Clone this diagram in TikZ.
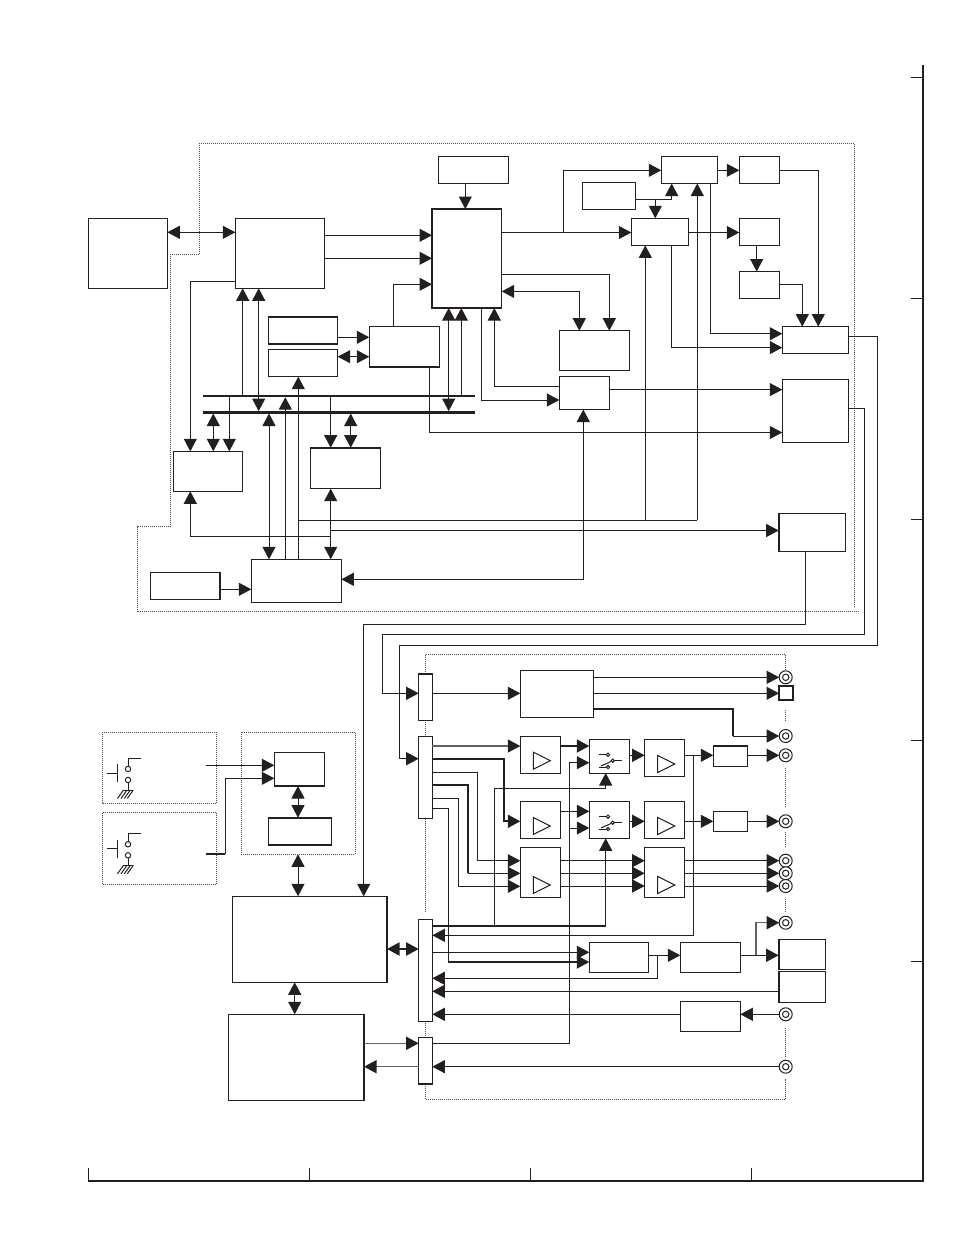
\documentclass[tikz,border=0pt]{standalone}
\usetikzlibrary{arrows.meta,calc}
\definecolor{ink}{HTML}{231F20}
\definecolor{dotink}{HTML}{4A4A4A}
\tikzset{
  x=1pt,y=-1pt,
  every path/.style={line width=1pt,color=ink},
  blk/.style={draw=ink,fill=white,rectangle,inner sep=0pt,outer sep=0pt,line width=1pt},
  heavy/.style={line width=1.4pt},
  tipa/.tip={Triangle[length=12.5pt,width=13pt,color=ink,fill=ink]},
  to/.style={-{tipa}},
  from/.style={{tipa}-},
  both/.style={{tipa}-{tipa}},
  fat/.style={line width=1.9pt},
  soft/.style={line width=1.4pt,draw=ink!70},
  dots/.style={line width=0.9pt,draw=dotink,dash pattern=on 1pt off 1pt},
  conn/.style={circle,draw=ink,fill=white,inner sep=0pt,outer sep=0pt,minimum size=13pt,line width=1pt},
  frameline/.style={line width=2pt},
  tick/.style={line width=1.1pt},
  rim/.style={line width=1.8pt,line cap=butt},
}
% \bx[style]{name}{x1}{y1}{x2}{y2}: rectangle given by its corners
\newcommand{\bx}[6][]{%
  \pgfmathsetmacro{\bxw}{#5-#3}\pgfmathsetmacro{\bxh}{#6-#4}%
  \pgfmathsetmacro{\bxc}{(#3+#5)/2}\pgfmathsetmacro{\bxd}{(#4+#6)/2}%
  \node[blk,minimum width=\bxw pt,minimum height=\bxh pt,#1] (#2) at (\bxc,\bxd) {};}
% \cn{name}{x}{y}: ring-shaped jack
\newcommand{\cn}[3]{\node[conn] (#1) at (#2,#3) {}; \draw (#1) circle (3.2pt);}
% \amp{x}{y}: open triangle with left edge at x, centred on y
\newcommand{\amp}[2]{\draw ($(#1,#2)+(0,-8.5)$) -- ++(17,8.5) -- ++(-17,8.5) -- cycle;}
% \swt{y}: changeover switch symbol
\newcommand{\swt}[1]{%
  \begin{scope}[yshift=-#1pt]
    \draw (598.7,754.7) -- (606.4,754.7);
    \draw (598.7,767) -- (606.4,767);
    \draw (612.7,760.7) -- (601,766);
    \draw (614.4,760.7) -- (622,760.7);
    \draw[fill=white] (608,754.7) circle (1.7pt);
    \draw[fill=white] (608,767) circle (1.7pt);
    \draw[fill=white] (612.7,760.7) circle (1.7pt);
  \end{scope}}
% \pbt{y}: push button with grounded contact
\newcommand{\pbt}[1]{%
  \begin{scope}[yshift=-#1pt]
    \draw (107.3,773.3) -- (117.7,773.3);
    \draw (117.7,764.3) -- (117.7,782.3);
    \draw (140.7,758.3) -- (128,758.3) -- (128,766.3);
    \draw (128,782.7) -- (128,790);
    \draw (123.3,790) -- (133.3,790);
    \draw (128,769) circle (2.7pt);
    \draw (128,780) circle (2.7pt);
    \draw (123.5,790) -- (117.5,798.5);
    \draw (127,790) -- (121,798.5);
    \draw (130.3,790) -- (124.3,798.5);
    \draw (133.3,790) -- (127.3,798.5);
  \end{scope}}
\begin{document}
\begin{tikzpicture}
\useasboundingbox (0,0) rectangle (954,1235);

% --- outer frame and grid ticks
\draw[frameline] (923,65) -- (923,1181) -- (88,1181);
\foreach \ty in {77.3,298.3,519.3,740.3,961.3} \draw[tick] (911,\ty) -- (923,\ty);
\foreach \tx in {88.5,309.5,530.5,751.5} \draw[tick] (\tx,1168) -- (\tx,1181);

% --- dotted enclosures
\draw[dots] (854,607) -- (854,143.3) -- (199.3,143.3) -- (199.3,254.3) -- (170,254.3) -- (170,526.7) -- (137,526.7) -- (137,611.7) -- (858,611.7);
\draw[dots] (102.3,732.3) rectangle (216.7,803.3);
\draw[dots] (102.3,812.7) rectangle (216.7,884.3);
\draw[dots] (241.3,732.3) rectangle (355.3,854.3);
\draw[dots] (425.3,673.7) -- (425.3,654.3) -- (785.7,654.3) -- (785.7,670);
\draw[dots] (425.3,1084) -- (425.3,1099.3) -- (785.7,1099.3) -- (785.7,1078.7);
\foreach \ya/\yb in {720.3/736,818.7/911.7,1021.3/1037.3} \draw[dots] (425.3,\ya) -- (425.3,\yb);
\foreach \ya/\yb in {710/722,768/806.7,831.7/846.7,899.3/911.7,1027.7/1056.7} \draw[dots] (785.7,\ya) -- (785.7,\yb);

% --- upper section blocks
\bx{ext}{88.3}{218.3}{167.3}{288.3}
\bx{dec}{235.3}{218.3}{324.3}{288.3}
\bx{clk}{438.3}{156.3}{508.3}{183.3}
\bx[heavy]{cpu}{432}{209}{501.7}{308}
\bx{mema}{268.3}{316.7}{337.7}{344}
\bx{memb}{268.3}{349.3}{337.7}{376.7}
\bx{ctl}{369.3}{326.3}{439.3}{367.3}
\bx{memc}{173.3}{451.3}{242.7}{491.3}
\bx{memd}{310.3}{447.7}{380.3}{488.7}
\bx{host}{251.3}{559.3}{341.3}{602.3}
\bx{osc}{150.3}{572.3}{220.3}{599.3}
\bx[minimum height=2.4pt,fill=ink,draw=none]{busa}{203}{396}{475}{396}
\bx[minimum height=2.4pt,fill=ink,draw=none]{busb}{203}{412.3}{475}{412.3}
\bx{ja}{661.3}{156.4}{717.7}{183.5}
\bx{ka}{739.3}{156.4}{779.3}{183.5}
\bx{la}{582.3}{182.5}{635.3}{209.5}
\bx{ma}{631.3}{218.3}{688.7}{245.4}
\bx{na}{739.3}{218.3}{779.3}{245.4}
\bx{oa}{739.3}{271.5}{779.3}{298.5}
\bx{pa}{782.3}{326.6}{848.7}{353.7}
\bx{qa}{782.3}{379.7}{848.7}{442.7}
\bx{ra}{778.7}{513.8}{845.3}{551}
\bx{sa}{559.3}{330.7}{629.7}{370.6}
\bx{ta}{559.3}{376.4}{609.3}{409.5}

% --- lower section blocks
\bx{muxa}{418.7}{673.7}{432.3}{720.3}
\bx{muxb}{418.7}{736}{432.3}{818.7}
\bx{muxc}{418.7}{919.3}{432.3}{1021.3}
\bx{muxd}{418.7}{1037.3}{432.3}{1084}
\bx{ua}{520.3}{670.7}{593.3}{717.3}
\bx{va}{520.3}{736}{560.7}{773}
\bx{vb}{520.3}{801.7}{560.7}{838.3}
\bx{vc}{520.3}{847.3}{560.7}{897.3}
\bx{swa}{589.3}{739.3}{629.3}{773}
\bx{swb}{589.3}{801.7}{629.3}{838.3}
\bx{wa}{644.7}{739.3}{684.7}{776.3}
\bx{wb}{644.7}{801.7}{684.7}{838.3}
\bx{wc}{644.7}{847.3}{684.7}{897.3}
\bx{xa}{713.3}{745.7}{747.7}{766.3}
\bx{xb}{713.3}{811.3}{747.7}{831.3}
\bx{ya}{589.3}{942.3}{648.3}{972.3}
\bx{yb}{680.3}{942.3}{740.3}{972.3}
\bx{yc}{778.7}{939.3}{825.3}{969.3}
\bx{yd}{778.7}{971.3}{825.3}{1002.3}
\bx{ye}{680.3}{1001.3}{740.3}{1031.3}
\bx{kbd}{274.3}{752.3}{324.3}{786}
\bx{eep}{268.7}{817.7}{331.3}{845}
\bx{mic}{232.3}{896.3}{387}{982.3}
\bx[heavy]{dsp}{228.7}{1014.3}{364}{1100.3}

% --- heavier edges on some blocks
\draw[rim] (mema.north west) -- (mema.north east);
\draw[rim] (mema.south west) -- (mema.south east);
\draw[rim] (ctl.south west) -- (ctl.south east);
\draw[rim] (memd.north west) -- (memd.north east);
\draw[rim] (osc.north east) -- (osc.south east);
\draw[rim] (ra.north west) -- (ra.south west);
\draw[rim] (ta.north west) -- (ta.north east);
\draw[rim] (muxa.north west) -- (muxa.north east);
\draw[rim] (xa.north west) -- (xa.north east);
\draw[rim] (muxd.south west) -- (muxd.south east);
\draw[rim] (yc.north west) -- (yc.south west);
\draw[rim] (yd.north west) -- (yd.south west);
\draw[rim] (mic.north east) -- (mic.south east);
\draw[rim] (kbd.south west) -- (kbd.south east);
\draw[rim] (eep.north west) -- (eep.north east);
\draw[rim] (eep.south west) -- (eep.south east);

% --- jacks and the square terminal
\cn{ja1}{785.7}{677.3}
\bx[line width=2.2pt]{sq}{779}{686.3}{793.3}{700.3}
\cn{ja2}{785.7}{736}
\cn{ja3}{785.7}{755.3}
\cn{ja4}{785.7}{821.3}
\cn{ja5}{785.7}{860.7}
\cn{ja6}{785.7}{873.3}
\cn{ja7}{785.7}{886}
\cn{ja8}{785.7}{922.7}
\cn{ja9}{785.7}{1014.3}
\cn{ja10}{785.7}{1066.7}

% --- symbols inside blocks
\amp{533.3}{760.7}
\amp{533.3}{826}
\amp{533.3}{885}
\amp{657.7}{764}
\amp{657.7}{826}
\amp{657.7}{885}
\swt{0}
\swt{62}
\pbt{0}
\pbt{75.3}

% --- upper section connectors
\draw[both] (ext.east |- 0,232.3) -- (dec.west |- 0,232.3);
\draw[to] (dec.east |- 0,235.3) -- (cpu.west |- 0,235.3);
\draw[to] (dec.east |- 0,258.3) -- (cpu.west |- 0,258.3);
\draw[to] (ctl.north -| 393.3,0) |- (cpu.west |- 0,284.3);
\draw[to] (clk.south -| 465.3,0) -- (cpu.north -| 465.3,0);
\draw[to] (mema.east |- 0,337.3) -- (ctl.west |- 0,337.3);
\draw[both] (memb.east |- 0,356.7) -- (ctl.west |- 0,356.7);
\draw[both] (cpu.south -| 448.7,0) -- (busb.north -| 448.7,0);
\draw[to] (busa -| 461.3,0) -- (cpu.south -| 461.3,0);
\draw[to] (busa -| 242.7,0) -- (dec.south -| 242.7,0);
\draw[both] (dec.south -| 258.7,0) -- (busb.north -| 258.7,0);
\draw[to] (dec.west |- 0,281.7) -| (memc.north -| 190.3,0);
\draw[both] (busb.south -| 213.3,0) -- (memc.north -| 213.3,0);
\draw[to] (busa -| 229.3,0) -- (memc.north -| 229.3,0);
\draw[to] (busa -| 330.7,0) -- (memd.north -| 330.7,0);
\draw[both] (busb.south -| 350.7,0) -- (memd.north -| 350.7,0);
\draw[both] (busb.south -| 269,0) -- (host.north -| 269,0);
\draw[to] (host.north -| 285.3,0) -- (busa.south -| 285.3,0);
\draw[to] (host.north -| 298.3,0) -- (memb.south -| 298.3,0);
\draw[both] (memd.south -| 330.7,0) -- (host.north -| 330.7,0);
\draw[from] (memc.south -| 190.3,0) |- (330.7,536.3);
\draw[to] (osc.east |- 0,589.3) -- (host.west |- 0,589.3);
\draw (298.3,520) -- (697.3,520);
\draw[to] (697.3,520) -- (ja.south -| 697.3,0);
\draw[to] (645.3,520) -- (ma.south -| 645.3,0);
\draw[to] (330.7,530.5) -- (ra.west |- 0,530.5);
\draw[both] (host.east |- 0,579.3) -| (ta.south -| 583.3,0);
\draw[to] (cpu.east |- 0,232.5) -- (ma.west |- 0,232.5);
\draw[to] (563.3,232.5) |- (ja.west |- 0,170.3);
\draw[to] (ja.east |- 0,170.3) -- (ka.west |- 0,170.3);
\draw[to] (la.east |- 0,199.4) -| (ja.south -| 671.7,0);
\draw[to] (655.3,199.4) -- (ma.north -| 655.3,0);
\draw[to] (ma.east |- 0,232.5) -- (na.west |- 0,232.5);
\draw[to] (na.south -| 756.7,0) -- (oa.north -| 756.7,0);
\draw[to] (oa.east |- 0,284.7) -| (pa.north -| 802.3,0);
\draw[to] (ka.east |- 0,170.3) -| (pa.north -| 818.3,0);
\draw[to] (ja.south -| 710.3,0) |- (pa.west |- 0,333.7);
\draw[to] (ma.south -| 671.7,0) |- (pa.west |- 0,347.6);
\draw[to] (cpu.east |- 0,274.8) -| (sa.north -| 609.3,0);
\draw[both] (cpu.east |- 0,291.4) -| (sa.north -| 579.3,0);
\draw[to] (ta.west |- 0,386.5) -| (cpu.south -| 494.3,0);
\draw[to] (cpu.south -| 481.7,0) |- (ta.west |- 0,400);
\draw[to] (ctl.south -| 429.3,0) |- (qa.west |- 0,432.5);
\draw[to] (ta.east |- 0,389.6) -- (qa.west |- 0,389.6);

% --- links between the upper and lower sections
\draw[to] (ra.south -| 805.3,0) |- (363.7,624.7) -- (mic.north -| 363.7,0);
\draw[to] (qa.east |- 0,408.5) -| (864.3,634.9) -| (382.3,693.3) -- (muxa.west |- 0,693.3);
\draw[to] (pa.east |- 0,336.4) -| (877.3,645) -| (399.3,758.7) -- (muxb.west |- 0,758.7);

% --- lower section connectors
\draw[to] (muxa.east |- 0,693.3) -- (ua.west |- 0,693.3);
\draw[to] (ua.east |- 0,677.3) -- (ja1.west);
\draw[to] (ua.east |- 0,693.3) -- (sq.west);
\draw[fat] (ua.east |- 0,709.3) -| (733.3,736);
\draw[to] (733.3,736) -- (ja2.west);
\draw[to,soft] (muxb.east |- 0,746) -- (va.west |- 0,746);
\draw[to,fat] (muxb.east |- 0,758.7) -| (504,821.3) -- (vb.west |- 0,821.3);
\draw[to] (muxb.east |- 0,772.3) -| (477.7,860.7) -- (vc.west |- 0,860.7);
\draw[fat] (muxb.east |- 0,785.3) -| (468,873.3);
\draw[to] (468,873.3) -- (vc.west |- 0,873.3);
\draw[to] (muxb.east |- 0,798.3) -| (458.3,886.3) -- (vc.west |- 0,886.3);
\draw (muxb.east |- 0,808.3) -| (448.3,962);
\draw[to,fat] (448.3,962) -- (ya.west |- 0,962);
\draw[to,fat] (va.east |- 0,746) -- (swa.west |- 0,746);
\draw[to] (muxd.east |- 0,1043.3) -| (569.3,762.7) -- (swa.west |- 0,762.7);
\draw[to] (vb.east |- 0,811.3) -- (swb.west |- 0,811.3);
\draw[to] (569.3,828) -- (swb.west |- 0,828);
\draw[to] (swa.east |- 0,755.3) -- (wa.west |- 0,755.3);
\draw[to] (swb.east |- 0,821.3) -- (wb.west |- 0,821.3);
\draw[to] (wa.east |- 0,755.3) -- (xa.west |- 0,755.3);
\draw[to] (wb.east |- 0,821.3) -- (xb.west |- 0,821.3);
\draw[to] (xa.east |- 0,755.3) -- (ja3.west);
\draw[to] (xb.east |- 0,821.3) -- (ja4.west);
\foreach \yy in {860.7,873.3,886} {
  \draw[to] (vc.east |- 0,\yy) -- (wc.west |- 0,\yy);
}
\draw[to] (wc.east |- 0,860.7) -- (ja5.west);
\draw[to] (wc.east |- 0,873.3) -- (ja6.west);
\draw[to] (wc.east |- 0,886) -- (ja7.west);
\draw[to] (693.7,755.3) -- (693.7,935.3) -- (muxc.east |- 0,935.3);
\draw[fat] (muxc.east |- 0,925.7) -- (605.7,925.7);
\draw[to] (605.7,925.7) -- (swb.south -| 605.7,0);
\draw[to] (494.3,925.7) |- (605.7,788.3) -- (swa.south -| 605.7,0);
\draw[to] (muxc.east |- 0,952.3) -- (ya.west |- 0,952.3);
\draw[to] (ya.east |- 0,955.3) -- (yb.west |- 0,955.3);
\draw[to] (657.3,955.3) |- (muxc.east |- 0,978.3);
\draw[to] (yb.east |- 0,955.3) -- (yc.west |- 0,955.3);
\draw[to,soft] (756,955.3) |- (ja8.west);
\draw[to] (yd.west |- 0,991.3) -- (muxc.east |- 0,991.3);
\draw[to] (ye.west |- 0,1014.3) -- (muxc.east |- 0,1014.3);
\draw[to] (ja9.west) -- (ye.east |- 0,1014.3);
\draw[to] (ja10.west) -- (muxd.east |- 0,1066.7);
\draw[to,soft] (dsp.east |- 0,1043.3) -- (muxd.west |- 0,1043.3);
\draw[to,soft] (muxd.west |- 0,1066.7) -- (dsp.east |- 0,1066.7);
\draw[both,fat] (mic.east |- 0,949) -- (muxc.west |- 0,949);
\draw[to] (205.7,765.3) -- (kbd.west |- 0,765.3);
\draw[fat] (205.7,853.7) -- (225.3,853.7);
\draw[to] (225.3,853.7) |- (kbd.west |- 0,778.3);
\draw[both] (kbd.south -| 298,0) -- (eep.north -| 298,0);
\draw[both] (298,854.3) -- (mic.north -| 298,0);
\draw[both] (mic.south -| 294.7,0) -- (dsp.north -| 294.7,0);
\end{tikzpicture}
\end{document}
